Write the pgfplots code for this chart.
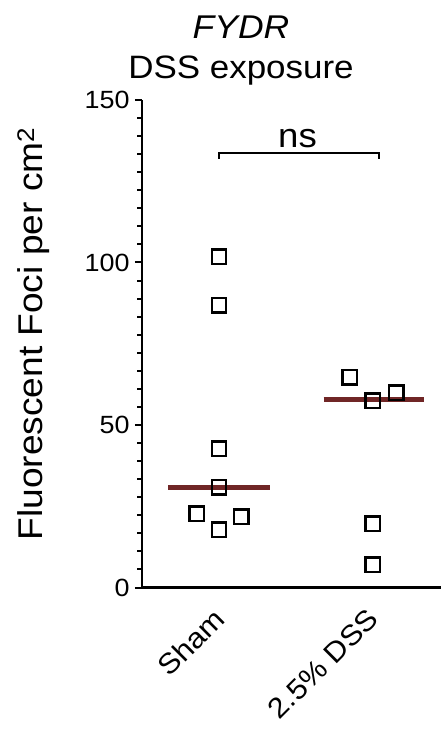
\documentclass[border=0pt]{standalone}
\usepackage{fontspec}
\setmainfont{Liberation Sans}[FakeStretch=1.08]
\usepackage{pgfplots}
\pgfplotsset{compat=1.18}
\definecolor{med}{RGB}{112,38,38}
\begin{document}
\begin{tikzpicture}
\begin{axis}[
  at={(0,0)}, anchor=south west,
  scale only axis, width=299bp, height=487.5bp,
  xmin=0.5, xmax=2.442, ymin=0, ymax=150,
  axis lines*=left,
  axis line style={line width=2.4bp, black},
  ytick={0,50,100,150}, minor y tick num=8,
  xtick={1,2}, xticklabels={Sham,2.5\% DSS},
  x tick style={draw=none},
  y tick style={line width=2bp, black},
  tick align=outside,
  major tick length=7bp, minor tick length=4.5bp,
  yticklabel style={font=\fontsize{25}{25}\selectfont, xshift=-2bp},
  xticklabel style={font=\fontsize{28.5}{28.5}\selectfont, xshift=-7bp, yshift=-9bp, rotate=45, anchor=north east, inner sep=2bp},
  /pgf/number format/assume math mode=true,
  clip=false,
]
\addplot[med, line width=5bp] coordinates {(0.67,30.8) (1.33,30.8)};
\addplot[med, line width=5bp] coordinates {(1.68,57.7) (2.33,57.7)};
\addplot[only marks, mark=square, mark size=7.2bp, mark options={line width=2.5bp, black}] coordinates {
(1,101.8) (1,86.8) (1,42.7) (1,30.9) (0.856,22.7) (1.144,21.8) (1,17.8)};
\addplot[only marks, mark=square, mark size=7.2bp, mark options={line width=2.5bp, black}] coordinates {
(1.849,64.7) (2,57.5) (2.151,59.9) (2,19.6) (2,7.0)};
\draw[line width=1.8bp] (axis cs:1,131.9) -- (axis cs:1,133.7) -- (axis cs:2.04,133.7) -- (axis cs:2.04,131.9);
\node[anchor=base, font=\fontsize{34}{34}\selectfont, inner sep=0pt] at (axis cs:1.51,135.3) {ns};
\end{axis}
\node[anchor=base, font=\fontsize{33}{33}\selectfont\itshape, inner sep=0pt] at (99bp,549bp) {FYDR};
\node[anchor=base, font=\fontsize{32.5}{32.5}\selectfont, inner sep=0pt] at (99bp,509bp) {DSS exposure};
\node[rotate=90, anchor=base, font=\fontsize{34.5}{34.5}\selectfont, inner sep=0pt] at (-99bp,253.5bp) {Fluorescent Foci per cm\textsuperscript{2}};
\pgfresetboundingbox
\path[use as bounding box] (-142bp,-142.5bp) rectangle (299bp,587.5bp);
\end{tikzpicture}
\end{document}
